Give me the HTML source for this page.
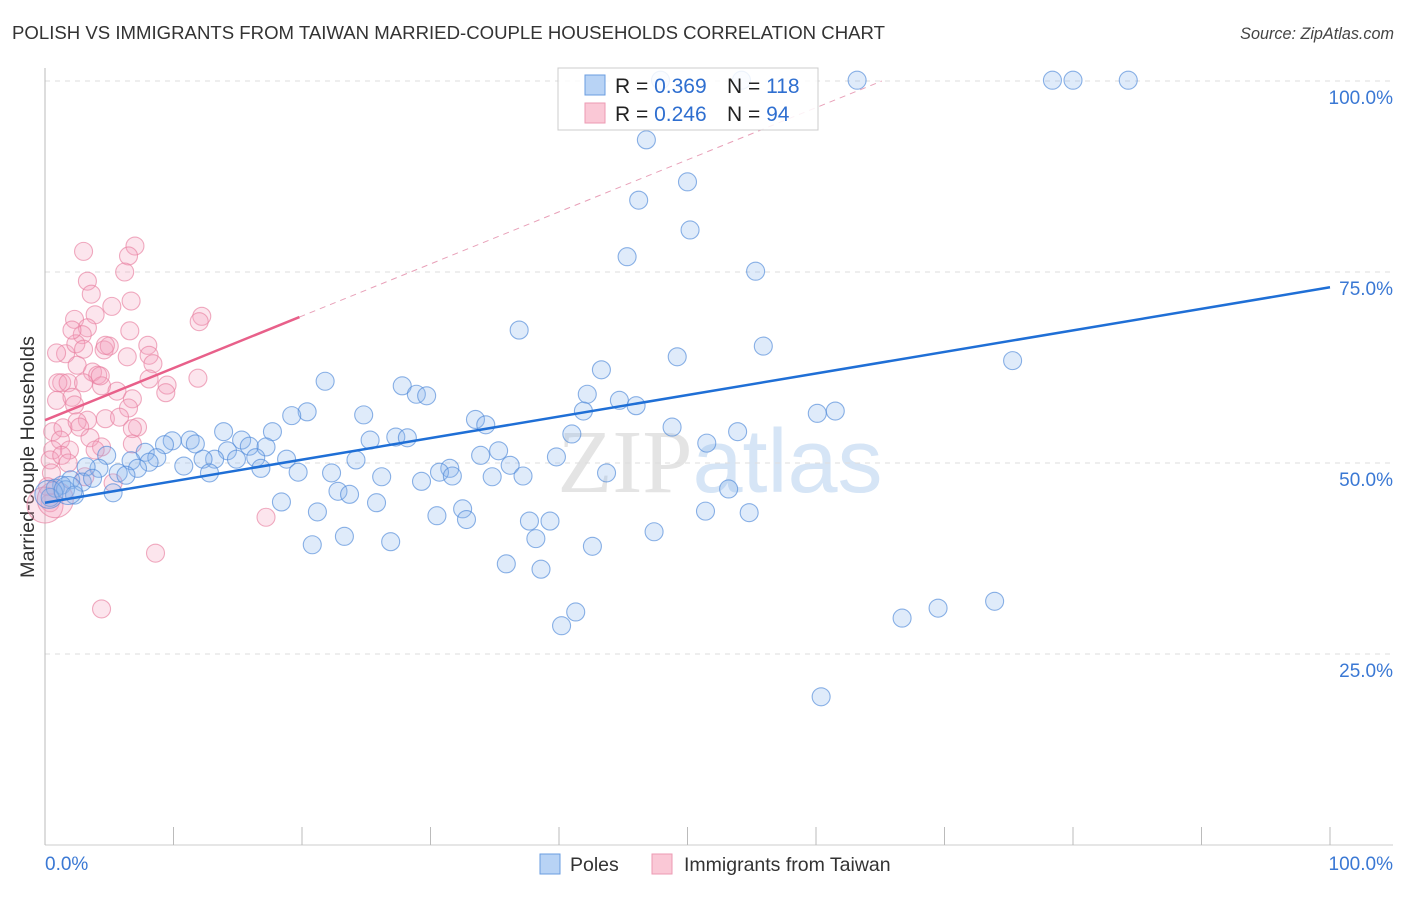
<!DOCTYPE html>
<html><head><meta charset="utf-8"><style>
body{margin:0;background:#fff;font-family:"Liberation Sans",sans-serif;}
svg text{font-family:"Liberation Sans",sans-serif;}
</style></head><body>
<svg id="chart" width="1406" height="892" viewBox="0 0 1406 892" xmlns="http://www.w3.org/2000/svg">
<text x="12" y="39" font-size="18.6" fill="#333">POLISH VS IMMIGRANTS FROM TAIWAN MARRIED-COUPLE HOUSEHOLDS CORRELATION CHART</text>
<text x="1394" y="39" font-size="16.2" fill="#444" text-anchor="end" font-style="italic">Source: ZipAtlas.com</text>
<text x="720" y="492" font-size="90" text-anchor="middle"><tspan fill="#e4e4e4" font-family="Liberation Serif">ZIP</tspan><tspan fill="#d6e5f6">atlas</tspan></text>
<g id="grid"></g>
<line x1="45" y1="68" x2="45" y2="845" stroke="#bbb"/>
<line x1="45" y1="845" x2="1393" y2="845" stroke="#ccc"/>
<g id="xticks"></g>
<g id="ylabels"></g>
<text x="45" y="870" font-size="19" fill="#3a78d4">0.0%</text>
<text x="1393" y="870" font-size="19" fill="#3a78d4" text-anchor="end">100.0%</text>
<text transform="translate(34,457) rotate(-90)" font-size="19.8" fill="#333" text-anchor="middle">Married-couple Households</text>
<g id="pts-pink"></g>
<g id="pts-blue"></g>
<g id="lines"></g>
<g>
<rect x="558" y="68" width="260" height="62" fill="#fff" fill-opacity="0.85" stroke="#ccc"/>
<rect x="585" y="75" width="20" height="20" fill="#b8d3f5" stroke="#6a9de0"/>
<rect x="585" y="103" width="20" height="20" fill="#fac8d6" stroke="#ec9ab3"/>
<text x="615" y="93" font-size="21" fill="#222">R = <tspan fill="#2f6fd0">0.369</tspan></text>
<text x="727" y="93" font-size="21" fill="#222">N = <tspan fill="#2f6fd0">118</tspan></text>
<text x="615" y="121" font-size="21" fill="#222">R = <tspan fill="#2f6fd0">0.246</tspan></text>
<text x="727" y="121" font-size="21" fill="#222">N = <tspan fill="#2f6fd0"> 94</tspan></text>
</g>
<g>
<rect x="540" y="854" width="20" height="20" fill="#b8d3f5" stroke="#6a9de0"/>
<text x="570" y="871" font-size="19.5" fill="#333">Poles</text>
<rect x="652" y="854" width="20" height="20" fill="#fac8d6" stroke="#ec9ab3"/>
<text x="684" y="871" font-size="19.5" fill="#333">Immigrants from Taiwan</text>
</g>
</svg>
<script>
const yTicks=[25,50,75,100];
const yTickLabels=["25.0%","50.0%","75.0%","100.0%"];
const xTicks=[0,10,20,30,40,50,60,70,80,90,100];
const blueX=[47.9,54.2,63.2,78.4,80.0,84.3,46.8,50.0,46.2,50.2,45.3,55.3,36.9,55.9,49.2,75.3,43.3,21.8,27.8,42.2,28.9,29.7,44.7,46.0,41.9,20.4,19.2,24.8,60.1,61.5,33.5,34.3,48.8,53.9,41.0,13.9,17.7,27.3,28.2,25.3,15.3,11.3,9.9,51.5,9.3,11.7,15.9,17.2,14.2,7.8,35.3,33.9,4.8,39.8,8.7,6.7,13.2,12.3,14.9,16.4,18.8,24.2,8.1,36.2,10.8,16.8,7.2,31.5,4.2,3.2,19.7,22.3,30.7,43.7,5.7,6.3,12.8,31.7,37.2,34.8,26.2,29.3,2.0,2.9,3.7,1.3,0.8,1.6,22.8,53.2,23.7,2.3,5.3,0.4,18.4,25.8,32.5,51.4,21.2,54.8,30.5,32.8,37.7,39.3,47.4,23.3,38.2,26.9,20.8,42.6,35.9,38.6,73.9,69.5,41.3,66.7,40.2,60.4];
const blueY=[100.1,100.1,100.1,100.1,100.1,100.1,92.3,86.8,84.4,80.5,77.0,75.1,67.4,65.3,63.9,63.4,62.2,60.7,60.1,59.0,59.0,58.8,58.2,57.5,56.8,56.7,56.2,56.3,56.5,56.8,55.7,55.0,54.7,54.1,53.8,54.1,54.1,53.4,53.3,53.0,53.0,53.0,52.9,52.6,52.4,52.5,52.2,52.1,51.6,51.4,51.6,51.0,51.0,50.8,50.7,50.3,50.5,50.5,50.5,50.7,50.5,50.4,50.1,49.7,49.6,49.3,49.3,49.3,49.3,49.5,48.8,48.7,48.8,48.7,48.7,48.4,48.7,48.3,48.3,48.2,48.2,47.6,47.8,47.5,48.0,47.1,46.7,46.5,46.3,46.6,45.9,45.8,46.1,45.5,44.9,44.8,44.0,43.7,43.6,43.5,43.1,42.6,42.4,42.4,41.0,40.4,40.1,39.7,39.3,39.1,36.8,36.1,31.9,31.0,30.5,29.7,28.7,19.4];
const blueBigX=[0.3,1.8];
const blueBigY=[45.9,46.4];
const pinkX=[3.0,7.0,6.5,6.2,3.3,3.6,5.2,6.7,2.3,3.9,3.3,2.9,6.6,12.2,12.0,1.6,2.4,3.0,4.6,5.0,6.4,8.0,8.1,8.4,2.5,3.7,4.1,1.3,1.0,1.8,3.0,4.4,8.1,11.9,9.5,9.4,5.6,0.9,2.1,2.3,6.8,6.5,4.7,5.8,3.3,0.6,1.4,2.5,7.2,6.8,1.2,1.9,0.6,0.4,3.5,4.4,6.8,0.5,3.1,5.3,0.2,0.4,17.2,8.6,4.4,0.9,2.1,4.3,4.7,1.3,2.7,3.9,1.8];
const pinkY=[77.7,78.4,77.1,75.0,73.8,72.1,70.5,71.2,68.8,69.4,67.7,66.8,67.3,69.2,68.5,64.3,65.6,64.9,64.8,65.3,63.9,65.4,64.1,63.0,62.8,61.9,61.5,60.5,60.5,60.5,60.5,60.1,61.0,61.1,60.2,59.2,59.4,58.2,58.6,57.6,58.4,57.2,55.8,56.0,55.6,54.1,54.6,55.4,54.7,54.5,53.0,51.7,51.7,50.4,53.3,52.1,52.5,48.7,48.2,47.4,46.9,44.8,42.9,38.2,30.9,64.4,67.4,61.4,65.4,51.0,54.7,51.7,50.0];
const pinkBigX=[0.0,0.8];
const pinkBigY=[44.5,45.2];
const blueLine=[44.8,73.0];
const pinkLine=[55.6,69.1];
const pinkLineEnd=19.8;

const NS="http://www.w3.org/2000/svg";
const X0=45,X1=1330,Y0=845,Y100=81;
function sx(v){return X0+(X1-X0)*v/100;}
function sy(v){return Y0-(Y0-Y100)*v/100;}
function mk(tag,attrs,parent){const e=document.createElementNS(NS,tag);for(const k in attrs)e.setAttribute(k,attrs[k]);parent.appendChild(e);return e;}
const grid=document.getElementById('grid'),yl=document.getElementById('ylabels'),xt=document.getElementById('xticks');
yTicks.forEach((t,i)=>{
 const g=mk('line',{x1:45,x2:1393,y1:sy(t),y2:sy(t),stroke:'#ddd','stroke-dasharray':'5,5'},grid);
 
 
 const tx=mk('text',{x:1393,y:sy(t)+23,'font-size':19,fill:'#3a78d4','text-anchor':'end'},yl);
 tx.textContent=yTickLabels[i];
 
 
});
xTicks.forEach(t=>{
 const l=mk('line',{x1:sx(t),x2:sx(t),y1:827,y2:845,stroke:'#bbb'},xt);
 
 
});
function pts(xs,ys,r,gid,fill,stroke,name){
 const g=document.getElementById(gid);
 xs.forEach((x,i)=>{
  const c=mk('circle',{cx:sx(x),cy:sy(ys[i]),r:r,fill:fill,'fill-opacity':0.28,stroke:stroke,'stroke-width':1.1,'stroke-opacity':0.65},g);
  
  
 });
}
pts(pinkX,pinkY,9,'pts-pink','#f5a3bd','#e87fa0','taiwan-point');
pts(pinkBigX,pinkBigY,18,'pts-pink','#f5a3bd','#e87fa0','taiwan-point');
pts(blueX,blueY,9,'pts-blue','#8db8ee','#4f88d8','poles-point');
pts(blueBigX,blueBigY,14,'pts-blue','#8db8ee','#4f88d8','poles-point');
const L=document.getElementById('lines');
const bl=mk('line',{x1:sx(0),y1:sy(blueLine[0]),x2:sx(100),y2:sy(blueLine[1]),stroke:'#1f6fd6','stroke-width':2.5},L);


const slope=(pinkLine[1]-pinkLine[0])/pinkLineEnd;
const xEnd=(100-pinkLine[0])/slope;
const pd=mk('line',{x1:sx(pinkLineEnd),y1:sy(pinkLine[1]),x2:sx(xEnd),y2:sy(100),stroke:'#e8a0b8','stroke-width':1,'stroke-dasharray':'6,5'},L);


const pl=mk('line',{x1:sx(0),y1:sy(pinkLine[0]),x2:sx(pinkLineEnd),y2:sy(pinkLine[1]),stroke:'#e8608a','stroke-width':2.5},L);


</script>
</body></html>
